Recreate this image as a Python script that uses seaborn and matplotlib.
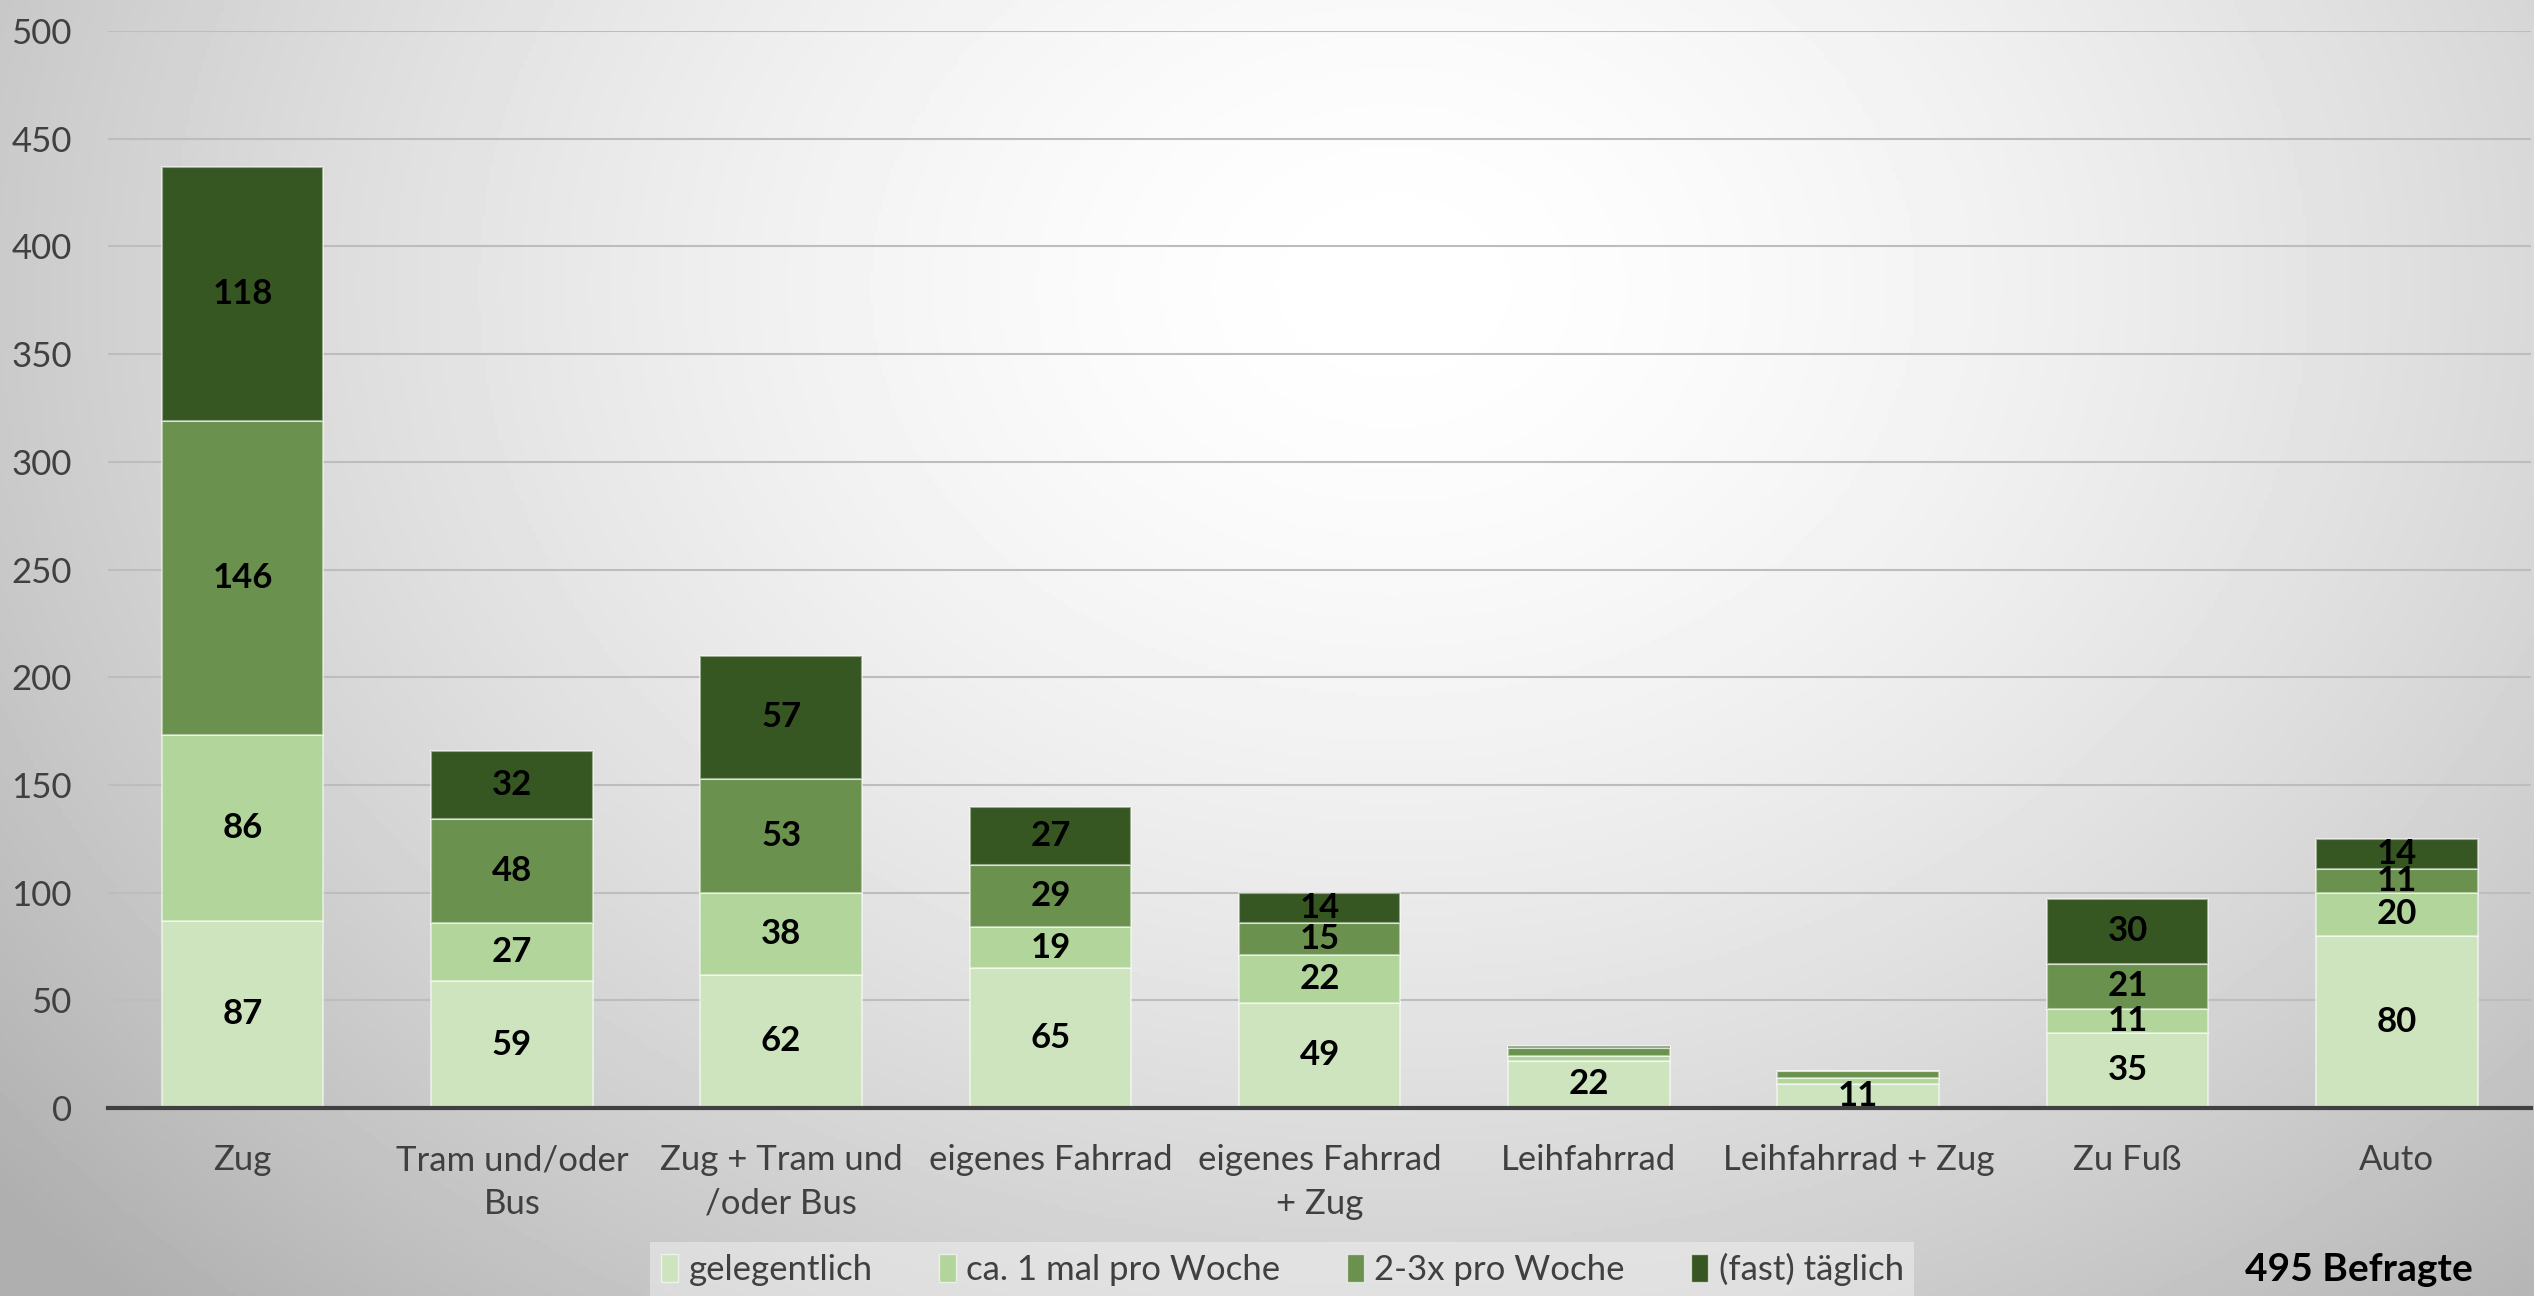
import numpy as np
import pandas as pd
import seaborn as sns
import matplotlib.pyplot as plt
from matplotlib.patches import Patch

categories = ["Zug", "Tram und/oder\nBus", "Zug + Tram und\n/oder Bus", "eigenes Fahrrad",
              "eigenes Fahrrad\n+ Zug", "Leihfahrrad", "Leihfahrrad + Zug", "Zu Fuß", "Auto"]
gelegentlich = [87, 59, 62, 65, 49, 22, 11, 35, 80]
einmal_woche = [86, 27, 38, 19, 22, 2, 3, 11, 20]
zwei_drei_woche = [146, 48, 53, 29, 15, 4, 3, 21, 11]
taeglich = [118, 32, 57, 27, 14, 1, 0, 30, 14]

series_names = ["gelegentlich", "ca. 1 mal pro Woche", "2-3x pro Woche", "(fast) täglich"]
series_values = [gelegentlich, einmal_woche, zwei_drei_woche, taeglich]
colors = ["#CDE4BE", "#B1D59A", "#6A914D", "#375722"]

sns.set_theme(style="white")
plt.rcParams['font.family'] = ['Lato', 'DejaVu Sans']

fig = plt.figure(figsize=(25.34, 12.96), dpi=100)

# radial grey background
bg = fig.add_axes([0, 0, 1, 1], zorder=-10)
yy, xx = np.mgrid[0:1:300j, 0:1:600j]
r = np.sqrt(((xx - 0.55) / 0.62) ** 2 + ((yy - 0.22) / 0.95) ** 2)
shade = 1.0 - 0.25 * np.clip(r, 0, 1.15) ** 1.6
bg.imshow(shade, cmap="gray", vmin=0, vmax=1, aspect="auto", extent=[0, 1, 1, 0])
bg.axis("off")

ax = fig.add_axes([0.0426, 0.145, 0.9564, 0.831])
ax.patch.set_alpha(0)

bottom = np.zeros(len(categories))
for name, vals, col in zip(series_names, series_values, colors):
    vals = np.array(vals)
    sns.barplot(x=categories, y=vals, bottom=bottom, color=col, width=0.6, saturation=1,
                edgecolor=(1, 1, 1, 0.5), linewidth=1.5, ax=ax, zorder=3)
    for i, v in enumerate(vals):
        if v >= 8:
            ax.text(i, bottom[i] + v / 2, str(v), ha="center", va="center",
                    fontsize=25, fontweight="bold", color="black", zorder=5)
    bottom = bottom + vals

ax.set_ylim(0, 500)
ax.set_xlim(-0.5, len(categories) - 0.5)
ax.set_yticks(range(0, 501, 50))
ax.yaxis.grid(True, color="#BDBDBD", linewidth=1.5, zorder=0)
ax.set_axisbelow(True)
for s in ["top", "right", "left"]:
    ax.spines[s].set_visible(False)
ax.spines["bottom"].set_color("#404040")
ax.spines["bottom"].set_linewidth(3)
ax.spines["bottom"].set_zorder(6)
ax.tick_params(axis="y", length=0, pad=26, labelsize=25, labelcolor="#404040")
ax.tick_params(axis="x", length=0, pad=26, labelsize=25, labelcolor="#404040")
for lbl in ax.get_xticklabels():
    lbl.set_linespacing(1.45)
ax.set_xlabel("")
ax.set_ylabel("")

handles = [Patch(facecolor=c, edgecolor=(1, 1, 1, 0.6)) for c in colors]
leg = fig.legend(handles, series_names, loc="center", bbox_to_anchor=(0.506, 0.0205),
                 ncol=4, frameon=True, fontsize=25, handlelength=0.5, handleheight=0.85,
                 handletextpad=0.3, columnspacing=1.9, borderpad=0.3, fancybox=False)
leg.get_frame().set_facecolor("#F2F2F2")
leg.get_frame().set_alpha(0.5)
leg.get_frame().set_edgecolor("none")
for t in leg.get_texts():
    t.set_color("#404040")

fig.text(0.931, 0.0205, "495 Befragte", ha="center", va="center",
         fontsize=28, fontweight="bold", color="black")

fig.savefig("out.png", dpi=100)
